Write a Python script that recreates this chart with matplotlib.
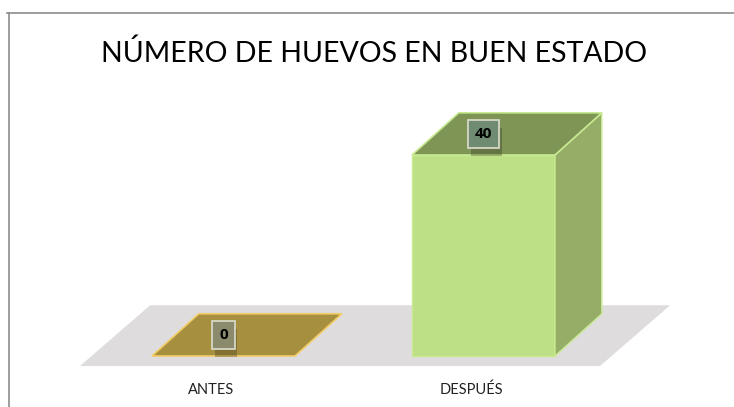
import matplotlib
matplotlib.use('Agg')
import matplotlib.pyplot as plt
from matplotlib.patches import Polygon, Rectangle
from matplotlib import patheffects

# data
categories = ['ANTES', 'DESPUÉS']
values = [0, 40]
title = 'NÚMERO DE HUEVOS EN BUEN ESTADO'

# style
front_cols = ['#c9a94a', '#bddf85']
top_cols = ['#a68f3e', '#7f9556']
side_cols = ['#b09a48', '#95ad66']
edge_cols = ['#f2cc66', '#c8ea92']
box_cols = ['#8c8a6c', '#6f8b72']
fonts = ['Lato', 'DejaVu Sans']
bar_w = 0.55
dx, dy = 0.18, 8.4          # depth of bars (data units)
fdx, fdy = 0.27, 12.1       # depth of floor

fig = plt.figure(figsize=(7.34, 4.07), dpi=100)
ax = fig.add_axes([0, 0, 1, 1])
ax.set_xlim(-0.8596, 1.9635)
ax.set_ylim(-10.15, 70.85)
ax.axis('off')

# floor
f0, f1, fy = -0.552, 1.448, -2.0
ax.add_patch(Polygon([(f0, fy), (f1, fy), (f1 + fdx, fy + fdy), (f0 + fdx, fy + fdy)],
                     closed=True, fc='#dedcdc', ec='none', zorder=1))

for i, (cat, v) in enumerate(zip(categories, values)):
    x0, x1 = i - bar_w / 2, i + bar_w / 2
    if v > 0:
        ax.add_patch(Rectangle((x0, 0), bar_w, v, fc=front_cols[i], ec=edge_cols[i], lw=1, zorder=3))
        ax.add_patch(Polygon([(x1, 0), (x1 + dx, dy), (x1 + dx, v + dy), (x1, v)],
                             closed=True, fc=side_cols[i], ec=edge_cols[i], lw=1, zorder=3))
    ax.add_patch(Polygon([(x0, v), (x1, v), (x1 + dx, v + dy), (x0 + dx, v + dy)],
                         closed=True, fc=top_cols[i], ec=edge_cols[i], lw=1.2, zorder=3))
    # value label with soft shadow
    t = ax.text(i, v + dy / 2, str(v), ha='center', va='center', fontsize=11,
                fontweight='bold', family=['Open Sans', 'DejaVu Sans'], color='black', zorder=5,
                bbox=dict(boxstyle='square,pad=0.45', fc=box_cols[i], ec='#d6d8c4', lw=1.3))
    t.get_bbox_patch().set_path_effects([
        patheffects.withSimplePatchShadow(offset=(2, -6), shadow_rgbFace='#202010', alpha=0.28)])
    ax.text(i - 0.048, -6.8, cat, ha='center', va='center', fontsize=10.5,
            family=fonts, color='#222222')

fig.text(374 / 734, 1 - 62 / 407, title, ha='center', va='baseline', fontsize=20.5,
         family=fonts, color='black')

# chart frame
fig.add_artist(plt.Line2D([7 / 734, 1], [1 - 13 / 407] * 2, color='#8c8c8c', lw=1.2))
fig.add_artist(plt.Line2D([9 / 734] * 2, [0, 1 - 13 / 407], color='#8c8c8c', lw=1.2))

fig.savefig('out.png', dpi=100)
